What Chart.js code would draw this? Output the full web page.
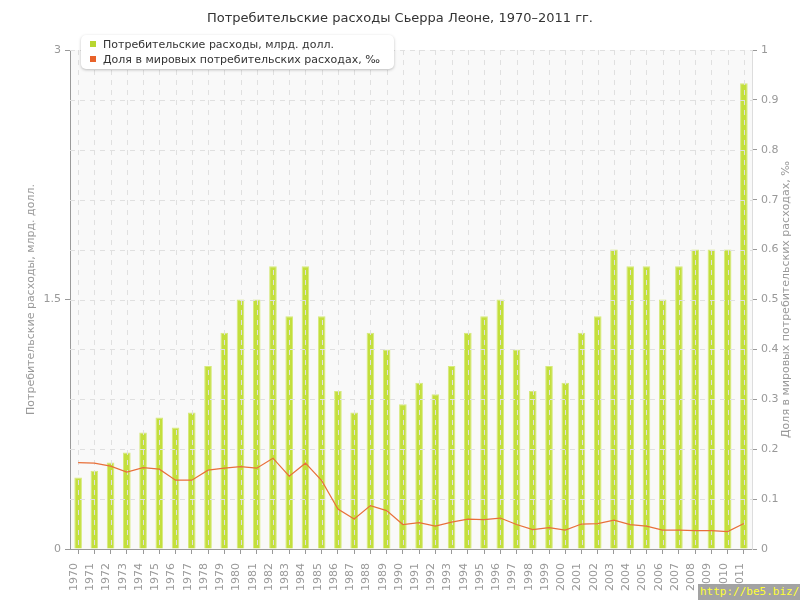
<!DOCTYPE html>
<html>
<head>
<meta charset="utf-8">
<title>Потребительские расходы Сьерра Леоне</title>
<script src="https://cdn.jsdelivr.net/npm/chart.js"></script>
<style>
	body { margin: 0; background: #fff; }
	#wrap { position: relative; width: 800px; height: 600px; }
	#legend {
		position: absolute; left: 81px; top: 35px; width: 313px; height: 34px;
		background: #fff; border-radius: 5px; box-shadow: 0 1px 3px rgba(0, 0, 0, 0.25);
		font: 11px "DejaVu Sans", sans-serif; color: #333;
	}
	#legend div { position: absolute; left: 9px; height: 14px; line-height: 14px; white-space: nowrap; }
	#legend span { display: inline-block; width: 6px; height: 6px; margin-right: 7px; vertical-align: 1px; }
	#mark {
		position: absolute; left: 698px; top: 584px; width: 102px; height: 16px;
		background: #a3a3a3; color: #ffff33; font: 11px "DejaVu Sans Mono", monospace;
		line-height: 16px; padding-left: 2px; box-sizing: border-box;
	}
</style>
</head>
<body>
<div id="wrap">
	<canvas id="chart" width="800" height="600"></canvas>
	<div id="legend"></div>
	<div id="mark">http://be5.biz/</div>
</div>
<script>
// data
var years = ["1970", "1971", "1972", "1973", "1974", "1975", "1976", "1977", "1978", "1979",
	"1980", "1981", "1982", "1983", "1984", "1985", "1986", "1987", "1988", "1989",
	"1990", "1991", "1992", "1993", "1994", "1995", "1996", "1997", "1998", "1999",
	"2000", "2001", "2002", "2003", "2004", "2005", "2006", "2007", "2008", "2009",
	"2010", "2011"];
// потребительские расходы, млрд. долл.
var spending = [0.43, 0.47, 0.52, 0.58, 0.70, 0.79, 0.73, 0.82, 1.10, 1.30,
	1.50, 1.50, 1.70, 1.40, 1.70, 1.40, 0.95, 0.82, 1.30, 1.20,
	0.87, 1.00, 0.93, 1.10, 1.30, 1.40, 1.50, 1.20, 0.95, 1.10,
	1.00, 1.30, 1.40, 1.80, 1.70, 1.70, 1.50, 1.70, 1.80, 1.80,
	1.80, 2.80];
// доля в мировых потребительских расходах, ‰
var worldShare = [0.173, 0.172, 0.166, 0.154, 0.163, 0.160, 0.138, 0.138, 0.158, 0.162,
	0.165, 0.162, 0.182, 0.146, 0.172, 0.137, 0.080, 0.060, 0.087, 0.077,
	0.049, 0.053, 0.046, 0.054, 0.060, 0.059, 0.062, 0.049, 0.039, 0.043,
	0.038, 0.050, 0.051, 0.058, 0.049, 0.046, 0.038, 0.038, 0.037, 0.037,
	0.035, 0.051];
var leftTicks = [0, 1.5, 3];

var seriesNames = ["Потребительские расходы, млрд. долл.", "Доля в мировых потребительских расходах, ‰"];
var seriesColors = ["#b8d630", "#e8622a"];

Chart.defaults.font.family = "'DejaVu Sans', sans-serif";

var plotBg = {
	id: "plotBg",
	beforeDraw: function (chart) {
		var a = chart.chartArea;
		var ctx = chart.ctx;
		ctx.save();
		ctx.fillStyle = "#f9f9f9";
		ctx.fillRect(a.left, a.top, a.right - a.left, a.bottom - a.top);
		ctx.restore();
	},
};

// dashed grid goes over the bars (but under the line), like the original
var gridOverBars = {
	id: "gridOverBars",
	beforeDatasetDraw: function (chart, args) {
		if (args.index !== 1) return;
		var a = chart.chartArea;
		var ctx = chart.ctx;
		var xs = chart.scales.x;
		var ys = chart.scales.y1;
		ctx.save();
		ctx.strokeStyle = "#e0e0e0";
		ctx.lineWidth = 1;
		ctx.setLineDash([5, 5]);
		ctx.beginPath();
		xs.ticks.forEach(function (t, i) {
			var px = Math.round(xs.getPixelForTick(i)) + 0.5;
			ctx.moveTo(px, a.top);
			ctx.lineTo(px, a.bottom);
		});
		ys.ticks.forEach(function (t, i) {
			if (t.value === 0) return;
			var py = Math.round(ys.getPixelForTick(i)) + 0.5;
			ctx.moveTo(a.left, py);
			ctx.lineTo(a.right, py);
		});
		ctx.stroke();
		ctx.restore();
	},
};

// right axis title reads bottom to top in the original
var rightTitle = {
	id: "rightTitle",
	afterDraw: function (chart) {
		var a = chart.chartArea;
		var ctx = chart.ctx;
		ctx.save();
		ctx.translate(786, (a.top + a.bottom) / 2);
		ctx.rotate(-Math.PI / 2);
		ctx.fillStyle = "#999";
		ctx.font = "11px 'DejaVu Sans', sans-serif";
		ctx.textAlign = "center";
		ctx.textBaseline = "middle";
		ctx.fillText(seriesNames[1], 0, 0);
		ctx.restore();
	},
};

var ctx = document.getElementById("chart").getContext("2d");
var chart = new Chart(ctx, {
	type: "bar",
	data: {
		labels: years,
		datasets: [
			{
				type: "bar",
				label: seriesNames[0],
				data: spending,
				yAxisID: "y",
				backgroundColor: "#c3df3c",
				borderColor: "#d6ea7c",
				borderWidth: 1,
				barPercentage: 0.47,
				categoryPercentage: 1,
				order: 1,
			},
			{
				type: "line",
				label: seriesNames[1],
				data: worldShare,
				yAxisID: "y1",
				borderColor: "#e8703a",
				borderWidth: 1.2,
				pointRadius: 0,
				tension: 0,
				fill: false,
				order: 0,
			},
		],
	},
	options: {
		responsive: false,
		animation: false,
		layout: { padding: 0 },
		plugins: {
			legend: { display: false },
			tooltip: { enabled: false },
			title: {
				display: true,
				text: "Потребительские расходы Сьерра Леоне, 1970–2011 гг.",
				color: "#333",
				font: { size: 13, weight: "normal" },
				padding: { top: 11, bottom: 23.4 },
			},
		},
		scales: {
			x: {
				offset: true,
				grid: {
					offset: false,
					drawOnChartArea: false,
					tickColor: "#999",
					tickLength: 5,
				},
				border: { color: "#999" },
				ticks: {
					color: "#999",
					font: { size: 11 },
					minRotation: 90,
					maxRotation: 90,
					autoSkip: false,
					padding: 9,
					labelOffset: -4,
				},
				afterFit: function (s) { s.height = 51; },
			},
			y: {
				position: "left",
				min: 0,
				max: 3,
				grid: { drawOnChartArea: false, tickColor: "#999", tickLength: 5 },
				border: { color: "#999" },
				ticks: {
					color: "#999",
					font: { size: 11 },
					padding: 4,
					callback: function (v) { return String(v); },
				},
				afterBuildTicks: function (s) {
					s.ticks = leftTicks.map(function (v) { return { value: v }; });
				},
				title: {
					display: true,
					text: seriesNames[0],
					color: "#999",
					font: { size: 11 },
					padding: { top: 25, bottom: 0 },
				},
				afterFit: function (s) { s.width = 70; },
			},
			y1: {
				position: "right",
				min: 0,
				max: 1,
				grid: { drawOnChartArea: false, tickColor: "#999", tickLength: 5 },
				border: { color: "#ddd" },
				ticks: {
					stepSize: 0.1,
					color: "#999",
					font: { size: 11 },
					padding: 4,
					callback: function (v) { return String(+v.toFixed(1)); },
				},
				afterFit: function (s) { s.width = 48; },
			},
		},
	},
	plugins: [plotBg, gridOverBars, rightTitle],
});

// legend box drawn over the plot, as in the original
var legend = document.getElementById("legend");
chart.data.datasets.forEach(function (ds, i) {
	var row = document.createElement("div");
	row.style.top = (3 + i * 15) + "px";
	row.innerHTML = '<span style="background:' + seriesColors[i] + '"></span>' + ds.label;
	legend.appendChild(row);
});
</script>
</body>
</html>
